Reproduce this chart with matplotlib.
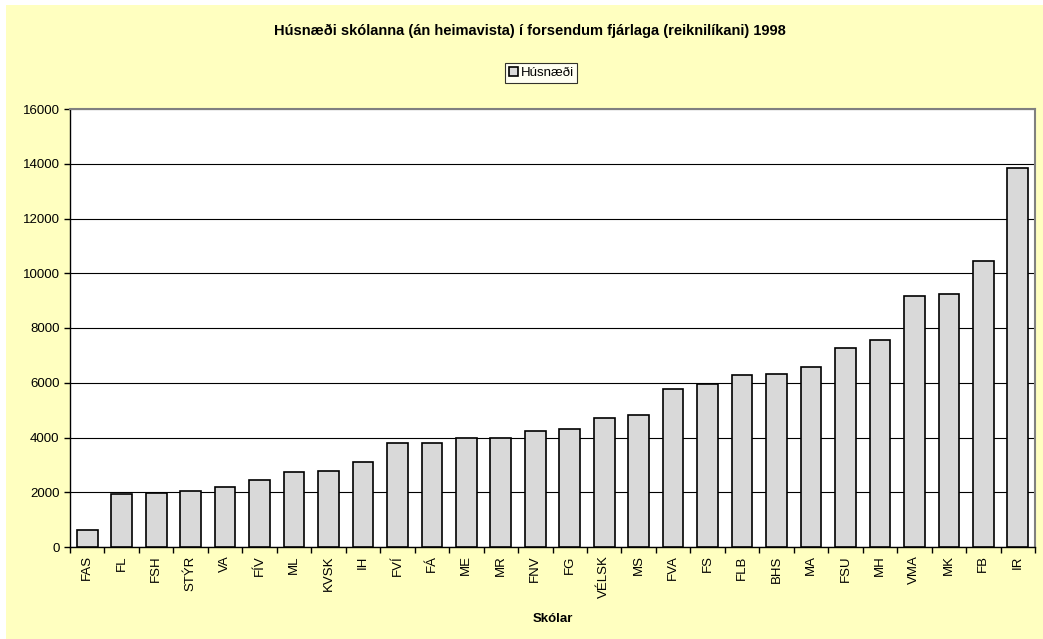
import numpy as np
import matplotlib
matplotlib.use("Agg")
import matplotlib.pyplot as plt
from matplotlib.patches import Rectangle

plt.rcParams['font.family'] = ['Liberation Sans', 'DejaVu Sans']

# data
schools = ['FAS', 'FL', 'FSH', 'STÝR', 'VA', 'FÍV', 'ML', 'KVSK', 'IH', 'FVÍ',
           'FÁ', 'ME', 'MR', 'FNV', 'FG', 'VÉLSK', 'MS', 'FVA', 'FS', 'FLB',
           'BHS', 'MA', 'FSU', 'MH', 'VMA', 'MK', 'FB', 'IR']
husnaedi = [605, 1945, 1965, 2040, 2185, 2455, 2745, 2770, 3100, 3810,
            3810, 3965, 4000, 4245, 4295, 4720, 4820, 5765, 5970, 6270,
            6310, 6570, 7270, 7560, 9175, 9235, 10445, 13830]
yticks = [0, 2000, 4000, 6000, 8000, 10000, 12000, 14000, 16000]

W, H = 1043, 639
fig = plt.figure(figsize=(W / 100, H / 100), dpi=100)
fig.patch.set_facecolor('white')

# yellow chart area
fig.add_artist(Rectangle((6 / W, 0), 1 - 6 / W, 1 - 5 / H, transform=fig.transFigure,
                         facecolor='#FFFFC0', edgecolor='none', zorder=0))

ax = fig.add_axes([70 / W, 1 - 547 / H, (1035 - 70) / W, (547 - 109) / H])
ax.set_facecolor('white')

x = np.arange(len(schools))
ax.bar(x, husnaedi, width=0.6, color='#D9D9D9', edgecolor='black', linewidth=1.2,
       label='Húsnæði', zorder=3)

ax.set_xlim(-0.5, len(schools) - 0.5)
ax.set_ylim(0, 16000)
ax.set_yticks(yticks)
ax.set_yticklabels([str(v) for v in yticks], fontsize=9.5)
ax.grid(axis='y', color='black', linewidth=0.8, zorder=1)
ax.set_axisbelow(True)

ax.set_xticks(x)
ax.set_xticklabels(schools, rotation=90, fontsize=9.5)
ax.set_xticks(np.arange(-0.5, len(schools)), minor=True)
ax.tick_params(axis='x', which='major', length=0, pad=6)
ax.tick_params(axis='x', which='minor', length=4, direction='out', width=1)
ax.tick_params(axis='y', length=4, direction='out', width=1)

for side in ['left', 'bottom']:
    ax.spines[side].set_color('black')
    ax.spines[side].set_linewidth(1)
for side in ['top', 'right']:
    ax.spines[side].set_color('#808080')
    ax.spines[side].set_linewidth(1.5)

ax.set_xlabel('Skólar', fontsize=9.5, fontweight='bold', labelpad=11)

fig.text(530 / W, 1 - 31 / H, 'Húsnæði skólanna (án heimavista) í forsendum fjárlaga (reiknilíkani) 1998',
         ha='center', va='center', fontsize=10.5, fontweight='bold')

leg = fig.legend(loc='center', bbox_to_anchor=(541 / W, 1 - 73 / H), fontsize=9.5,
                 frameon=True, fancybox=False, edgecolor='black', handlelength=0.7,
                 handleheight=0.7, handletextpad=0.2, borderpad=0.3, borderaxespad=0)
leg.get_frame().set_linewidth(0.8)

fig.savefig('out.png', dpi=100)
